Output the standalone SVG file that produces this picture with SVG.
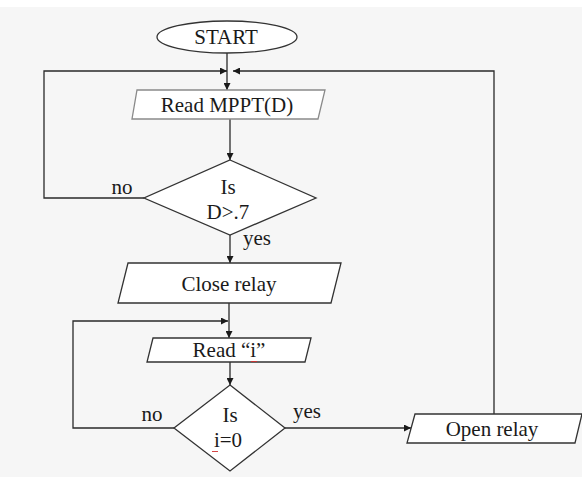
<svg xmlns="http://www.w3.org/2000/svg" width="582" height="477" viewBox="0 0 582 477">
  <style>
    .shape { fill: #ffffff; stroke: #333333; stroke-width: 1.3; }
    .soft { fill: #ffffff; stroke: #8a8a8a; stroke-width: 1.3; }
    .wire { fill: none; stroke: #2a2a2a; stroke-width: 1.3; }
    .lbl { font-family: "Liberation Serif", "Times New Roman", serif; font-size: 21px; fill: #1a1a1a; text-anchor: middle; }
    .spell { fill: none; stroke: #d03030; stroke-width: 0.9; }
  </style>
  <defs>
    <marker id="arrow" viewBox="0 0 10 10" refX="10" refY="5" markerWidth="7" markerHeight="7" markerUnits="userSpaceOnUse" orient="auto">
      <path d="M0,0 L10,5 L0,10 Z" fill="#1a1a1a"/>
    </marker>
  </defs>

  <!-- page background -->
  <rect x="0" y="0" width="582" height="477" fill="#f6f6f6"/>
  <rect x="0" y="0" width="582" height="7" fill="#ffffff"/>

  <!-- connectors -->
  <g id="connectors">
    <path class="wire" d="M227,53 V90" marker-end="url(#arrow)"/>
    <path class="wire" d="M144,198 H44 V71 H227" marker-end="url(#arrow)"/>
    <path class="wire" d="M494,414 V71 H233" marker-end="url(#arrow)"/>
    <path class="wire" d="M230,119 V160" marker-end="url(#arrow)"/>
    <path class="wire" d="M230,235 V263" marker-end="url(#arrow)"/>
    <path class="wire" d="M229,303 V338" marker-end="url(#arrow)"/>
    <path class="wire" d="M174,428 H73 V321 H228" marker-end="url(#arrow)"/>
    <path class="wire" d="M230,362 V385" marker-end="url(#arrow)"/>
    <path class="wire" d="M285,428 H411" marker-end="url(#arrow)"/>
    <text class="lbl" x="122" y="194">no</text>
    <text class="lbl" x="257" y="245">yes</text>
    <text class="lbl" x="152" y="421">no</text>
    <text class="lbl" x="307" y="418">yes</text>
  </g>

  <g id="start">
    <ellipse class="shape" cx="227" cy="37" rx="70" ry="16"/>
    <text class="lbl" x="226" y="44">START</text>
  </g>

  <g id="read-mppt">
    <polygon class="soft" points="137,90 325,90 318,119 132,119"/>
    <text class="lbl" x="227" y="112">Read MPPT(D)</text>
  </g>

  <g id="check-d">
    <polygon class="shape" points="230,160 316,198 230,235 144,198"/>
    <text class="lbl" x="228" y="194">Is</text>
    <text class="lbl" x="228" y="219">D&gt;.7</text>
  </g>

  <g id="close-relay">
    <polygon class="shape" points="128,263 341,263 331,303 118,303"/>
    <text class="lbl" x="229" y="291">Close relay</text>
  </g>

  <g id="read-i">
    <polygon class="shape" points="153,338 311,338 305,362 147,362"/>
    <text class="lbl" x="229" y="357">Read “i”</text>
    <path class="spell" d="M251,361 q1,2 2,0 q1,2 2,0 q1,2 2,0"/>
  </g>

  <g id="check-i">
    <polygon class="shape" points="230,385 285,428 230,471 174,428"/>
    <text class="lbl" x="230" y="422">Is</text>
    <text class="lbl" x="228" y="447">i=0</text>
    <path class="spell" d="M212,451 q1,2 2,0 q1,2 2,0 q1,2 2,0"/>
  </g>

  <g id="open-relay">
    <polygon class="shape" points="415,414 582,414 575,443 407,443"/>
    <text class="lbl" x="492" y="436">Open relay</text>
  </g>
</svg>
